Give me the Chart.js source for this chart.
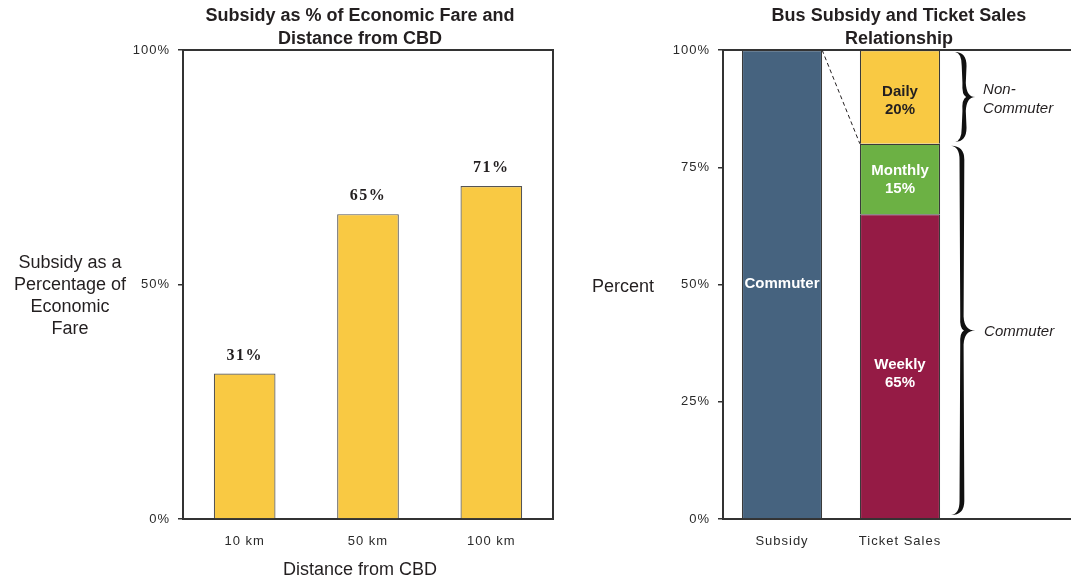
<!DOCTYPE html>
<html>
<head>
<meta charset="utf-8">
<script src="https://cdn.jsdelivr.net/npm/chart.js@4.4.1/dist/chart.umd.min.js"></script>
<style>
  html, body { margin: 0; padding: 0; background: #fff; overflow: hidden; }
  #wrap { position: relative; width: 1071px; height: 581px; overflow: hidden; }
  #leftChart { position: absolute; left: 0; top: 0; }
  #rightChart { position: absolute; left: 590px; top: 0; }
</style>
</head>
<body>
<div id="wrap">
  <canvas id="leftChart" width="590" height="581"></canvas>
  <canvas id="rightChart" width="487" height="581"></canvas>
</div>
<script>
// ---- data ----
const distances = ["10 km", "50 km", "100 km"];
const subsidyPct = [31, 65, 71];

const salesCategories = ["Subsidy", "Ticket Sales", ""];
const subsidyShare = 100;                 // commuter part of subsidy
const ticketTypes = ["Weekly", "Monthly", "Daily"];
const ticketShares = [65, 15, 20];

const leftTitle = ["Subsidy as % of Economic Fare and", "Distance from CBD"];
const leftYTitle = ["Subsidy as a", "Percentage of", "Economic", "Fare"];
const leftXTitle = "Distance from CBD";
const rightTitle = ["Bus Subsidy and Ticket Sales", "Relationship"];
const rightYTitle = "Percent";

// ---- styles ----
const SANS = '"Liberation Sans", Arial, Helvetica, sans-serif';
const SERIF = '"Liberation Serif", "Times New Roman", serif';
const AXIS = "#333333";
const INK = "#231f20";
const YELLOW = "#F9C943";
const subsidyColor = "#46637F";
const ticketColors = ["#951B45", "#6CB144", YELLOW];
const segmentTextColors = ["#ffffff", "#ffffff", "#ffffff", INK];
const segmentTextShift = [0, 8, 1, 4];

Chart.defaults.font.family = SANS;
Chart.defaults.color = AXIS;

function textLines(ctx, lines, x, y, lh, font, color, align) {
  ctx.save();
  ctx.letterSpacing = "0px";
  ctx.font = font;
  ctx.fillStyle = color;
  ctx.textAlign = align || "center";
  ctx.textBaseline = "alphabetic";
  lines.forEach((t, i) => ctx.fillText(t, x, y + i * lh));
  ctx.restore();
}

// tick labels in the original are slightly tracked
const tracking = {
  id: "tracking",
  beforeDraw(chart) { chart.ctx.letterSpacing = "1px"; }
};

function yAxis(step, width) {
  return {
    min: 0, max: 100,
    ticks: { stepSize: step, padding: 8, font: { size: 13 }, color: "#2a2a2a", callback: v => v + "%" },
    grid: { drawOnChartArea: false, tickLength: 5, color: AXIS, lineWidth: 1.5 },
    border: { color: AXIS, width: 2 },
    afterFit: s => { s.width = width; }
  };
}

function xAxis(height, stacked) {
  return {
    stacked: !!stacked,
    grid: { display: false, drawTicks: false },
    border: { color: AXIS, width: 2 },
    ticks: { padding: 15, font: { size: 13 }, color: "#2a2a2a" },
    afterFit: s => { s.height = height; }
  };
}

// curly brace opening left, tip pointing right
function brace(ctx, x, y1, y2, d) {
  const ym = (y1 + y2) / 2;
  const r = Math.min(14, (y2 - y1) / 6);
  const xm = x + d * 0.45;
  const w = 2.4;
  ctx.beginPath();
  ctx.moveTo(x, y1);
  ctx.quadraticCurveTo(xm + w, y1, xm + w, y1 + r);
  ctx.lineTo(xm + w * 0.7, ym - r);
  ctx.quadraticCurveTo(xm + w, ym, x + d, ym);
  ctx.quadraticCurveTo(xm + w, ym, xm + w * 0.7, ym + r);
  ctx.lineTo(xm + w, y2 - r);
  ctx.quadraticCurveTo(xm + w, y2, x, y2);
  ctx.quadraticCurveTo(xm - w, y2 - 1, xm - w, y2 - r);
  ctx.lineTo(xm - w * 0.7, ym + r);
  ctx.quadraticCurveTo(xm - w, ym + 2, xm + 2, ym);
  ctx.quadraticCurveTo(xm - w, ym - 2, xm - w * 0.7, ym - r);
  ctx.lineTo(xm - w, y1 + r);
  ctx.quadraticCurveTo(xm - w, y1 + 1, x, y1);
  ctx.closePath();
  ctx.fill();
}

/* ===============================
   LEFT – subsidy vs distance
================================ */
const leftDecor = {
  id: "leftDecor",
  afterDatasetsDraw(chart) {
    const ctx = chart.ctx;
    ctx.save();
    ctx.letterSpacing = "1.5px";
    ctx.font = "bold 16px " + SERIF;
    ctx.fillStyle = INK;
    ctx.textAlign = "center";
    ctx.textBaseline = "alphabetic";
    chart.getDatasetMeta(0).data.forEach((bar, i) => {
      ctx.fillText(subsidyPct[i] + "%", bar.x, bar.y - 14);
    });
    ctx.restore();
  },
  afterDraw(chart) {
    const { ctx, chartArea: a } = chart;
    ctx.save();
    ctx.strokeStyle = AXIS;
    ctx.lineWidth = 2;
    ctx.beginPath();
    ctx.moveTo(a.left, a.top);
    ctx.lineTo(a.right, a.top);
    ctx.lineTo(a.right, a.bottom);
    ctx.stroke();
    ctx.restore();
    textLines(ctx, leftTitle, 360, 21, 23, "bold 18px " + SANS, INK);
    textLines(ctx, leftYTitle, 70, 268, 22, "18px " + SANS, INK);
    textLines(ctx, [leftXTitle], 360, 575, 0, "18px " + SANS, INK);
  }
};

new Chart(document.getElementById("leftChart"), {
  type: "bar",
  data: {
    labels: distances,
    datasets: [{
      data: subsidyPct,
      backgroundColor: YELLOW,
      borderColor: "#555555",
      borderWidth: 1.2,
      barPercentage: 0.5,
      categoryPercentage: 1
    }]
  },
  options: {
    responsive: false,
    animation: false,
    events: [],
    layout: { padding: { top: 50, right: 37, bottom: 0, left: 0 } },
    plugins: { legend: { display: false }, tooltip: { enabled: false } },
    scales: { x: xAxis(62), y: yAxis(50, 183) }
  },
  plugins: [tracking, leftDecor]
});

/* ===============================
   RIGHT – subsidy vs ticket sales
================================ */
const rightDatasets = [
  { label: "Commuter", data: [subsidyShare, null, null], backgroundColor: subsidyColor }
].concat(ticketTypes.map((t, i) => ({
  label: t,
  data: [null, ticketShares[i], null],
  backgroundColor: ticketColors[i]
})));
rightDatasets.forEach(ds => {
  ds.borderColor = "#3a3a3a";
  ds.borderWidth = 1.2;
  ds.barPercentage = 0.68;
  ds.categoryPercentage = 1;
});

const rightDecor = {
  id: "rightDecor",
  afterDatasetsDraw(chart) {
    const ctx = chart.ctx;
    ctx.save();
    ctx.letterSpacing = "0px";
    ctx.font = "bold 15px " + SANS;
    ctx.textAlign = "center";
    ctx.textBaseline = "middle";
    chart.data.datasets.forEach((ds, d) => {
      chart.getDatasetMeta(d).data.forEach((bar, i) => {
        const v = ds.data[i];
        if (v == null) return;
        const cy = (bar.y + bar.base) / 2 + segmentTextShift[d];
        const lines = d === 0 ? [ds.label] : [ds.label, v + "%"];
        ctx.fillStyle = segmentTextColors[d];
        lines.forEach((t, k) => ctx.fillText(t, bar.x, cy + (k - (lines.length - 1) / 2) * 18));
      });
    });
    ctx.restore();
  },
  afterDraw(chart) {
    const { ctx, chartArea: a } = chart;
    const y = chart.scales.y;
    const subBar = chart.getDatasetMeta(0).data[0];
    const salesBar = chart.getDatasetMeta(3).data[1];
    const split = y.getPixelForValue(ticketShares[0] + ticketShares[1]);

    ctx.save();
    ctx.strokeStyle = AXIS;
    ctx.lineWidth = 2;
    ctx.beginPath();
    ctx.moveTo(a.left, a.top);
    ctx.lineTo(a.right, a.top);
    ctx.stroke();

    // dashed link from subsidy top to commuter/non-commuter split
    ctx.strokeStyle = INK;
    ctx.lineWidth = 1;
    ctx.setLineDash([4, 3]);
    ctx.beginPath();
    ctx.moveTo(subBar.x + subBar.width / 2, y.getPixelForValue(100));
    ctx.lineTo(salesBar.x - salesBar.width / 2, split);
    ctx.stroke();
    ctx.setLineDash([]);

    // braces
    const bx = salesBar.x + salesBar.width / 2 + 15;
    ctx.fillStyle = "#111";
    const topA = y.getPixelForValue(100) + 2, topB = split - 2;
    const botA = split + 2, botB = y.getPixelForValue(0) - 4;
    brace(ctx, bx, topA, topB, 20);
    brace(ctx, bx - 4, botA, botB, 24);
    ctx.restore();

    textLines(ctx, ["Non-", "Commuter"], bx + 28, (topA + topB) / 2 - 3, 19, "italic 15px " + SANS, INK, "left");
    textLines(ctx, ["Commuter"], bx + 29, (botA + botB) / 2 + 6, 0, "italic 15px " + SANS, INK, "left");

    textLines(ctx, rightTitle, 309, 21, 23, "bold 18px " + SANS, INK);
    textLines(ctx, [rightYTitle], 33, 292, 0, "18px " + SANS, INK);
  }
};

new Chart(document.getElementById("rightChart"), {
  type: "bar",
  data: { labels: salesCategories, datasets: rightDatasets },
  options: {
    responsive: false,
    animation: false,
    events: [],
    layout: { padding: { top: 50, right: 0, bottom: 0, left: 0 } },
    plugins: { legend: { display: false }, tooltip: { enabled: false } },
    scales: {
      x: xAxis(62, true),
      y: Object.assign(yAxis(25, 133), { stacked: true })
    }
  },
  plugins: [tracking, rightDecor]
});
</script>
</body>
</html>
